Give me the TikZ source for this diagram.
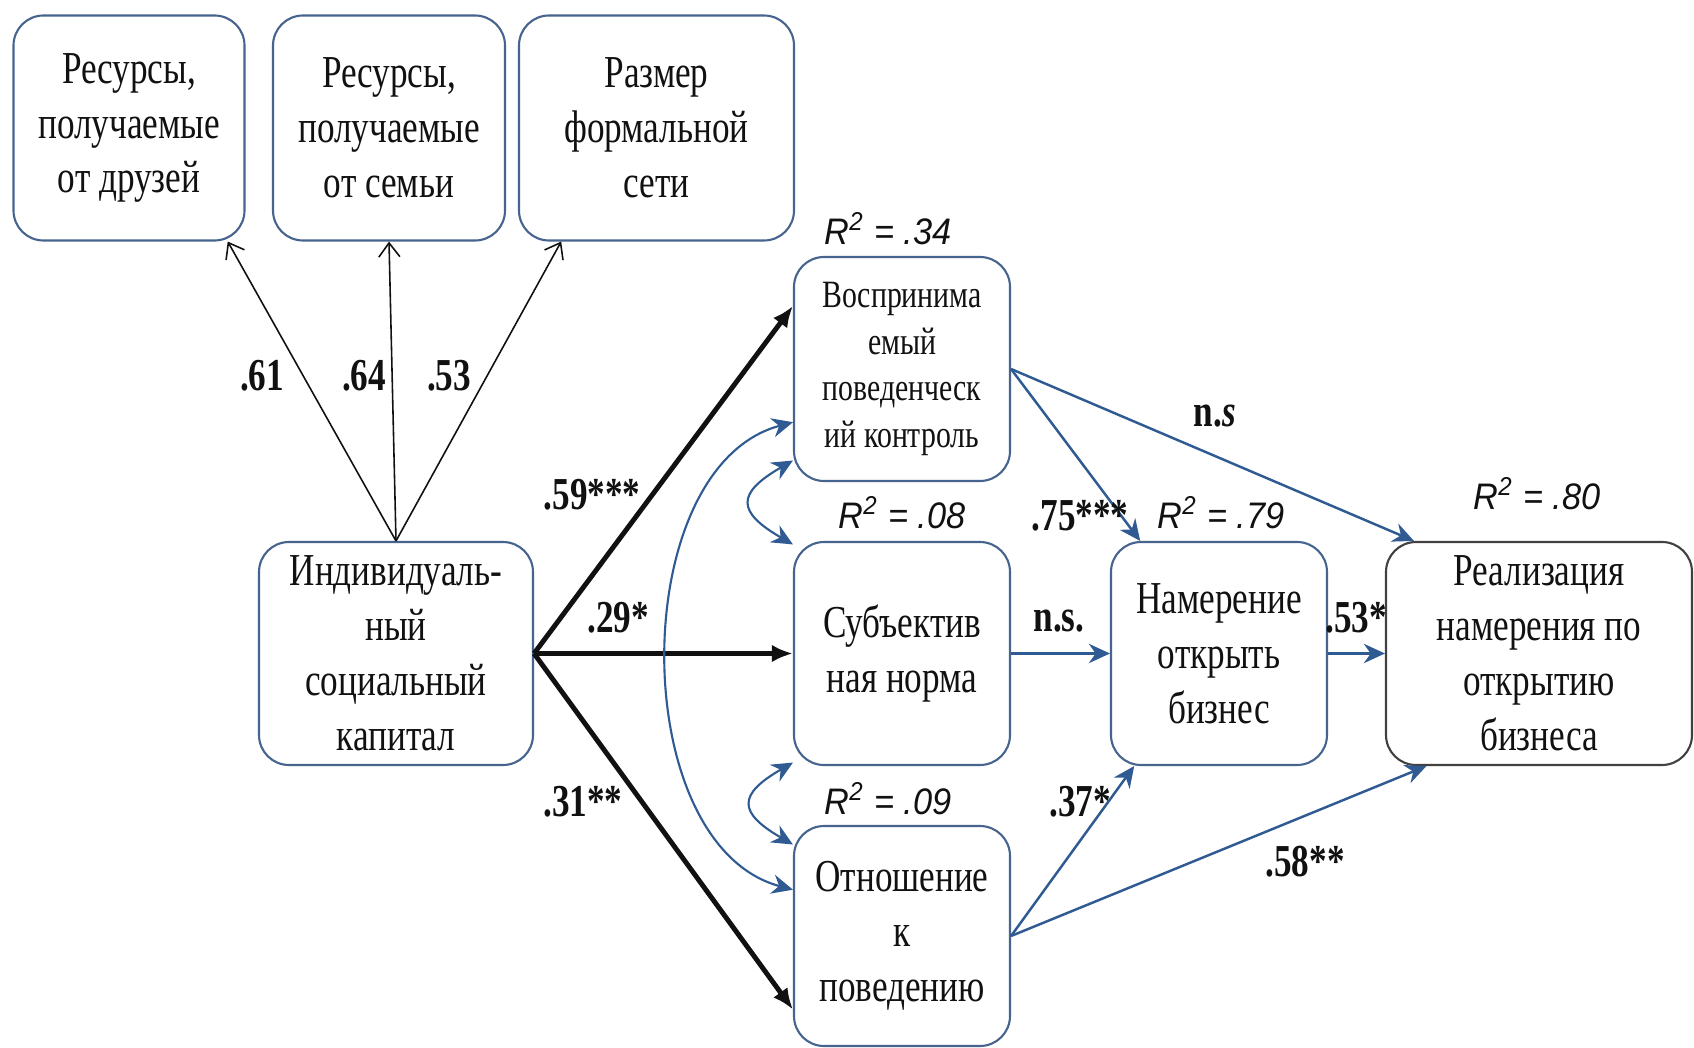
\documentclass[tikz,border=0pt]{standalone}
\usepackage{fontspec}
\setmainfont[FakeStretch=0.77]{Liberation Serif}
\newfontfamily\rsqfont[FakeStretch=0.93]{Liberation Sans}
\usetikzlibrary{arrows.meta}

\begin{document}
\begin{tikzpicture}[line join=round]
  \definecolor{boxblue}{HTML}{46648E}
  \definecolor{arrowblue}{HTML}{2F5A92}
  \definecolor{ink}{HTML}{111111}
  \path[use as bounding box] (0,0) rectangle (16.94,-10.48);
  \fill[white] (0,0) rectangle (16.94,-10.48);
  \tikzset{
    construct/.style={draw=boxblue, line width=0.6pt, rounded corners=0.3cm, fill=white,
      align=center, inner sep=0pt, text=ink, font=\fontsize{13}{15.6}\selectfont,
      minimum height=2.23cm},
    coef/.style={font=\fontsize{13}{15}\selectfont\bfseries, text=ink, inner sep=1pt},
    rsq/.style={font=\rsqfont\itshape\fontsize{10.5}{12}\selectfont, text=ink, inner sep=1pt},
    load/.style={-{Straight Barb[length=4pt,width=6pt]}, draw=ink, line width=0.45pt},
    effect/.style={-{Latex[length=6pt,width=5pt]}, draw=ink, line width=1.4pt},
    pathb/.style={-{Stealth[length=6pt,width=5.5pt]}, draw=arrowblue, line width=0.7pt},
    cov/.style={{Stealth[length=6pt,width=5.5pt]}-{Stealth[length=6pt,width=5.5pt]},
      draw=arrowblue, line width=0.6pt}
  }
  % Indicators of individual social capital along the top.
  \node[construct, minimum width=2.31cm, minimum height=2.25cm] (friends) at (1.29,-1.28) {Ресурсы,\\получаемые\\от друзей};
  \node[construct, minimum width=2.32cm, minimum height=2.25cm] (family) at (3.89,-1.28) {Ресурсы,\\получаемые\\от семьи};
  \node[construct, minimum width=2.75cm, minimum height=2.25cm] (network) at (6.565,-1.28) {Размер\\формальной\\сети};
  % Latent predictor, mediators and outcomes.
  \node[construct, minimum width=2.74cm] (capital) at (3.96,-6.535) {Индивидуаль-\\ный\\социальный\\капитал};
  \node[construct, minimum width=2.16cm, minimum height=2.24cm, font=\fontsize{11}{13.2}\selectfont] (control) at (9.02,-3.69) {Воспринима\\емый\\поведенческ\\ий контроль};
  \node[construct, minimum width=2.16cm] (norm) at (9.02,-6.535) {Субъектив\\ная норма};
  \node[construct, minimum width=2.16cm, minimum height=2.2cm] (attitude) at (9.02,-9.36) {Отношение\\к\\поведению};
  \node[construct, minimum width=2.16cm] (intent) at (12.19,-6.535) {Намерение\\открыть\\бизнес};
  \node[construct, minimum width=3.06cm, draw=ink!80] (realize) at (15.39,-6.535) {Реализация\\намерения по\\открытию\\бизнеса};
  % Loadings.
  \draw[load] (capital.north) -- (friends.-49);
  \draw[load] (capital.north) -- (family.south);
  \draw[load] (capital.north) -- (network.230);
  \node[coef] (l61) at (2.62,-3.76) {.61};
  \node[coef] (l64) at (3.64,-3.76) {.64};
  \node[coef] (l53) at (4.49,-3.76) {.53};
  % Effects of social capital on the three antecedents.
  \draw[effect] (capital.east) -- (control.150);
  \draw[effect] (capital.east) -- (norm.west);
  \draw[effect] (capital.east) -- (attitude.214);
  \node[coef] (e59) at (5.92,-4.95) {.59***};
  \node[coef] (e29) at (6.18,-6.18) {.29*};
  \node[coef] (e31) at (5.83,-8.02) {.31**};
  % Covariances between the antecedents.
  \draw[cov] (control.220) to[out=210,in=150,looseness=2] (norm.135);
  \draw[cov] (norm.225) to[out=210,in=150,looseness=2] (attitude.140);
  \draw[cov] (control.206) to[out=195,in=165,looseness=0.95] (attitude.157);
  % Structural paths to intention and realisation.
  \draw[pathb] (control.east) -- (intent.125);
  \draw[pathb] (control.east) -- (realize.138);
  \draw[pathb] (norm.east) -- (intent.west);
  \draw[pathb] (intent.east) -- (realize.west);
  \draw[pathb] (attitude.east) -- (intent.233);
  \draw[pathb] (attitude.east) -- (realize.225);
  \node[coef] (p75) at (10.80,-5.16) {.75***};
  \node[coef] (pns1) at (12.15,-4.16) {n.\textit{s}};
  \node[coef] (pns2) at (10.59,-6.21) {n.s.};
  \node[coef] (p53) at (13.56,-6.18) {.53*};
  \node[coef] (p37) at (10.80,-8.02) {.37*};
  \node[coef] (p58) at (13.05,-8.62) {.58**};
  % Explained variance.
  \node[rsq] (r34) at (8.88,-2.29) {R\textsuperscript{2} = .34};
  \node[rsq] (r08) at (9.02,-5.13) {R\textsuperscript{2} = .08};
  \node[rsq] (r79) at (12.21,-5.13) {R\textsuperscript{2} = .79};
  \node[rsq] (r80) at (15.37,-4.94) {R\textsuperscript{2} = .80};
  \node[rsq] (r09) at (8.88,-7.99) {R\textsuperscript{2} = .09};
\end{tikzpicture}
\end{document}
